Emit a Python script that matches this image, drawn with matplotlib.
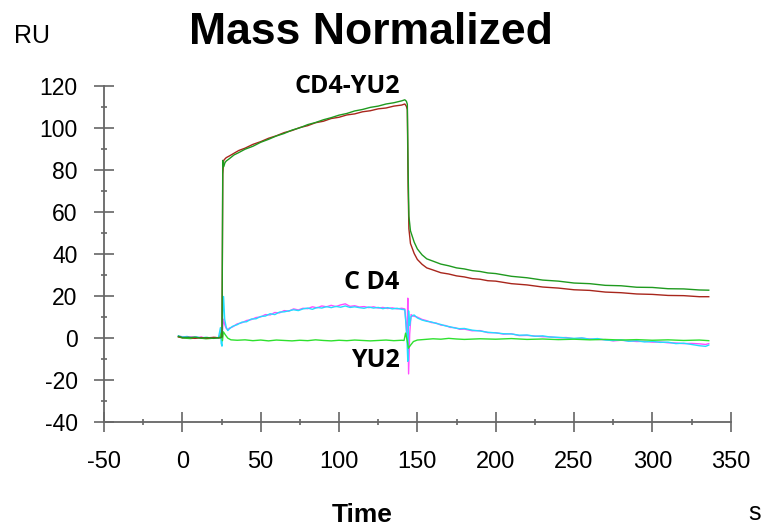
import matplotlib
matplotlib.use('Agg')
import matplotlib.pyplot as plt
import matplotlib.ticker as mticker

plt.rcParams['axes.unicode_minus'] = False

# CD4-YU2 binding, two runs (s, RU)
t_cd4yu2 = [-2.5, 0, 4, 8, 12, 16, 20, 24,
            25.3, 25.8, 26.4, 27.2, 28, 30, 33, 36,
            40, 45, 50, 55, 60, 65, 70, 75,
            80, 85, 90, 95, 100, 105, 110, 115,
            120, 125, 130, 135, 140, 142, 143, 143.6,
            144.1, 144.6, 145.6, 148, 150, 153, 156, 160,
            165, 170, 175, 180, 185, 190, 195, 200,
            210, 220, 230, 240, 250, 260, 270, 280,
            290, 300, 310, 320, 330, 336]
ru_cd4yu2_a = [0.6, 0.2, 0.4, -0.1, 0.3, 0.0, 0.4, 0.1,
               0.6, 78.0, 84.5, 85.2, 85.8, 86.6, 87.9, 89.2,
               90.3, 92.1, 93.4, 95.0, 96.2, 97.7, 98.7, 100.1,
               101.0, 102.4, 103.1, 104.4, 105.0, 106.1, 106.6, 107.6,
               108.1, 109.0, 109.4, 110.3, 110.8, 111.3, 110.2, 108.6,
               72.0, 52.0, 45.0, 40.2, 37.4, 35.1, 33.4, 32.4,
               31.1, 30.5, 29.6, 29.1, 28.3, 28.0, 27.3, 27.1,
               25.9, 25.3, 24.3, 23.8, 23.0, 22.7, 21.9, 21.6,
               21.0, 20.8, 20.3, 20.2, 19.7, 19.7]
ru_cd4yu2_b = [0.9, 0.3, 0.2, 0.5, 0.0, 0.3, -0.1, 0.3,
               0.5, 84.5, 81.5, 83.4, 84.2, 85.3, 87.1, 88.2,
               89.8, 91.2, 93.1, 94.5, 96.1, 97.3, 98.9, 100.0,
               101.5, 102.5, 103.8, 104.8, 106.0, 106.8, 108.0, 108.7,
               109.7, 110.3, 111.3, 111.9, 112.8, 113.3, 112.6, 111.2,
               80.0, 58.0, 51.0, 45.6, 42.4, 39.6, 37.7, 36.6,
               35.2, 34.4, 33.4, 32.9, 32.1, 31.7, 31.0, 30.7,
               29.4, 28.7, 27.6, 27.1, 26.2, 25.9, 25.1, 24.9,
               24.2, 24.1, 23.5, 23.4, 22.9, 22.8]

# CD4 alone, two runs
t_cd4 = [-2.5, 0, 3, 6, 9, 12, 15, 18, 21, 23,
         24.3, 24.8, 25.3, 25.8, 26.3, 27, 28, 29, 30, 32,
         35, 38, 41, 44, 47, 50, 53, 56, 59, 62,
         65, 68, 71, 74, 77, 80, 83, 86, 89, 92,
         95, 98, 101, 104, 107, 110, 113, 116, 119, 122,
         125, 128, 131, 134, 137, 140, 142, 142.8, 143.4, 143.9,
         144.4, 145.1, 146, 147, 148, 150, 153, 156, 159, 162,
         165, 168, 171, 174, 177, 180, 185, 190, 195, 200,
         205, 210, 215, 220, 225, 230, 235, 240, 245, 250,
         255, 260, 265, 270, 275, 280, 285, 290, 295, 300,
         305, 310, 315, 320, 325, 330, 334, 336]
ru_cd4_a = [1.1, 0.5, 0.8, 0.2, 0.6, 0.1, 0.4, -0.1, 0.3, 0.0,
            5.0, -2.5, -3.8, 12.5, 19.8, 9.0, 5.2, 3.6, 4.4, 5.6,
            6.4, 7.6, 7.8, 9.1, 9.2, 10.3, 10.5, 11.6, 11.2, 12.4,
            12.5, 13.0, 13.5, 13.1, 13.9, 14.3, 13.7, 14.6, 14.3, 15.0,
            14.5, 15.1, 14.7, 15.3, 14.6, 14.9, 14.5, 14.2, 14.8, 14.3,
            14.6, 14.0, 14.5, 13.9, 14.2, 13.7, 13.5, 6.0, -1.0, -11.0,
            13.0, 6.0, 10.2, 10.8, 11.0, 9.6, 8.6, 8.0, 7.7, 7.0,
            6.5, 5.8, 5.4, 4.8, 4.5, 4.6, 3.8, 3.4, 2.8, 2.5,
            2.1, 2.0, 1.4, 1.5, 0.9, 1.1, 0.5, 0.4, 0.1, -0.1,
            0.1, -0.5, -0.2, -0.9, -1.1, -0.8, -1.5, -1.2, -1.8, -1.5,
            -2.0, -1.9, -2.6, -2.4, -3.0, -3.6, -3.9, -3.3]
ru_cd4_b = [0.9, 0.7, 0.4, 0.6, 0.2, 0.5, 0.0, 0.3, 0.1, 0.2,
            2.0, 0.5, -1.0, 6.0, 9.0, 6.5, 4.6, 4.0, 4.8, 5.3,
            6.8, 7.3, 8.4, 8.8, 9.8, 10.1, 11.2, 11.0, 12.2, 12.0,
            13.1, 12.8, 13.9, 13.4, 14.2, 14.0, 14.9, 14.4, 15.3, 14.9,
            15.6, 15.0, 15.8, 16.3, 15.1, 15.4, 14.8, 15.0, 14.5, 14.9,
            14.3, 14.6, 14.1, 14.4, 13.9, 14.2, 13.9, 6.5, 0.0, 19.0,
            -17.0, 2.0, 11.2, 10.5, 10.4, 10.0, 8.9, 8.3, 7.4, 7.2,
            6.2, 6.0, 5.1, 5.0, 4.2, 4.3, 3.5, 3.6, 2.6, 2.6,
            1.9, 2.1, 1.2, 1.3, 1.0, 0.7, 0.6, 0.2, 0.3, -0.3,
            0.0, -0.4, -0.6, -0.7, -1.3, -1.0, -1.3, -1.6, -1.5, -1.9,
            -1.8, -2.2, -2.3, -2.6, -2.5, -2.7, -3.0, -2.6]

# YU2 alone
t_yu2 = [-2.5, 0, 5, 10, 15, 20, 24, 24.8, 25.6, 26.2,
         27.5, 29, 31, 35, 40, 45, 50, 55, 60, 65,
         70, 75, 80, 85, 90, 95, 100, 105, 110, 115,
         120, 125, 130, 135, 140, 141.5, 142.5, 143.5, 144.3, 145.5,
         147.5, 150, 155, 160, 165, 170, 175, 180, 190, 200,
         210, 220, 230, 240, 250, 260, 270, 280, 290, 300,
         310, 320, 330, 336]
ru_yu2 = [0.6, 0.1, -0.2, 0.2, -0.3, 0.0, 0.3, 2.5, -1.2, 3.0,
          1.5, 0.0, -0.8, -1.0, -0.8, -1.2, -0.9, -1.3, -0.9, -1.1,
          -1.3, -1.0, -1.2, -0.8, -1.1, -1.3, -1.0, -1.2, -0.9, -1.1,
          -1.3, -1.1, -0.9, -1.2, -1.0, -1.1, 2.4, -1.0, -4.8, -3.5,
          -1.6, -0.9, -0.6, -0.3, -0.5, -0.1, -0.4, -0.6, -0.3, -0.5,
          -0.2, -0.6, -0.4, -0.7, -0.5, -0.8, -0.6, -0.9, -0.7, -1.0,
          -0.8, -1.1, -0.9, -1.2]

x_ticks = [-50, 0, 50, 100, 150, 200, 250, 300, 350]
y_ticks = [-40, -20, 0, 20, 40, 60, 80, 100, 120]

SANS = 'Liberation Sans'
AXIS_GREY = '#666666'

fig = plt.figure(figsize=(7.66, 5.29), dpi=100)
ax = fig.add_axes([0.1358, 0.2017, 0.8181, 0.6363])

# draw order: the CD4 pair first, YU2 over them, complex on top
ax.plot(t_cd4, ru_cd4_b, color='#ff4dff', lw=1.0)
ax.plot(t_cd4, ru_cd4_a, color='#22ddff', lw=1.0)
ax.plot(t_yu2, ru_yu2, color='#2ee02e', lw=1.0)
ax.plot(t_cd4yu2, ru_cd4yu2_a, color='#a8261c', lw=1.0)
ax.plot(t_cd4yu2, ru_cd4yu2_b, color='#1f9a1f', lw=1.0)

ax.set_xlim(-50, 350)
ax.set_ylim(-40, 120)
ax.xaxis.set_major_locator(mticker.FixedLocator(x_ticks))
ax.yaxis.set_major_locator(mticker.FixedLocator(y_ticks))
ax.xaxis.set_minor_locator(mticker.MultipleLocator(25))
ax.yaxis.set_minor_locator(mticker.MultipleLocator(10))

for side in ['top', 'right']:
    ax.spines[side].set_visible(False)
for side in ['left', 'bottom']:
    ax.spines[side].set_color(AXIS_GREY)
    ax.spines[side].set_linewidth(1.3)

ax.tick_params(axis='both', which='both', direction='inout', color=AXIS_GREY, width=1.2)
ax.tick_params(axis='x', which='major', length=14, pad=14, labelsize=17)
ax.tick_params(axis='y', which='major', length=14, pad=12, labelsize=16.5)
ax.tick_params(axis='x', which='minor', length=4.5)
ax.tick_params(axis='y', which='minor', length=5)
for lab in ax.get_xticklabels() + ax.get_yticklabels():
    lab.set_fontfamily(SANS)

# curve labels
lbl = dict(family='Open Sans', fontweight='bold', fontsize=18, ha='center', va='baseline')
ax.text(105, 116.4, 'CD4-YU2', **lbl)
ax.text(121, 23.4, 'C D4', **lbl)
ax.text(123, -13.7, 'YU2', **lbl)

fig.text(0.4837, 0.917, 'Mass Normalized', family=SANS, fontweight='bold',
         fontsize=32, ha='center', va='baseline')
fig.text(0.0424, 0.918, 'RU', family=SANS, fontsize=18, ha='center', va='baseline')
fig.text(0.4722, 0.0138, 'Time', family=SANS, fontweight='bold', fontsize=19,
         ha='center', va='baseline')
fig.text(0.9856, 0.017, 's', family=SANS, fontsize=18, ha='center', va='baseline')

fig.savefig('out.png', dpi=100)
